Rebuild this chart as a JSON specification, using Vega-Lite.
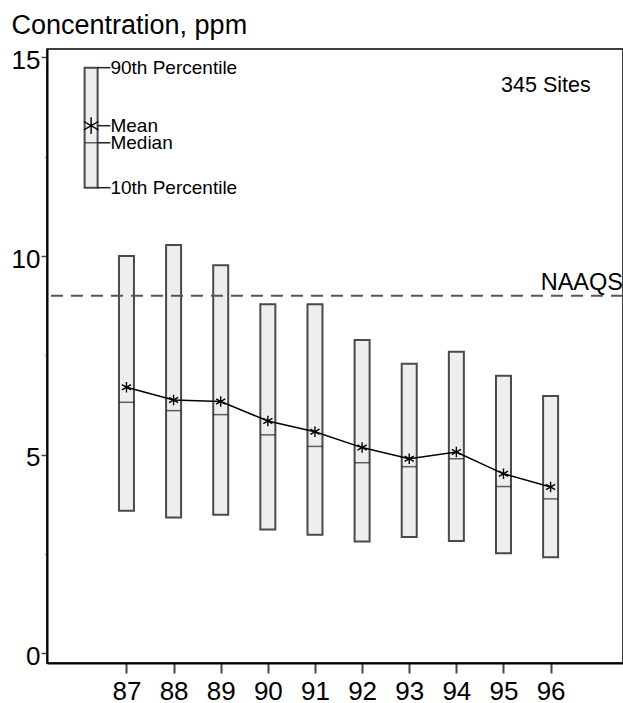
{
  "$schema": "https://vega.github.io/schema/vega-lite/v6.json",
  "width": 576,
  "height": 614,
  "autosize": {"type": "none"},
  "padding": {"left": 47, "top": 49, "right": 0, "bottom": 40},
  "background": "white",
  "config": {
    "view": {"stroke": "#000", "strokeWidth": 1.5},
    "font": "Liberation Sans",
    "text": {"font": "Liberation Sans", "color": "#000"}
  },
  "datasets": {
    "stats": [
      {"year": 87, "p10": 3.59, "p90": 10.0, "median": 6.32, "mean": 6.70},
      {"year": 88, "p10": 3.42, "p90": 10.28, "median": 6.11, "mean": 6.38},
      {"year": 89, "p10": 3.49, "p90": 9.77, "median": 6.01, "mean": 6.34},
      {"year": 90, "p10": 3.12, "p90": 8.79, "median": 5.50, "mean": 5.85},
      {"year": 91, "p10": 2.99, "p90": 8.79, "median": 5.21, "mean": 5.58},
      {"year": 92, "p10": 2.82, "p90": 7.89, "median": 4.80, "mean": 5.18},
      {"year": 93, "p10": 2.93, "p90": 7.29, "median": 4.70, "mean": 4.90},
      {"year": 94, "p10": 2.83, "p90": 7.59, "median": 4.90, "mean": 5.07},
      {"year": 95, "p10": 2.52, "p90": 6.99, "median": 4.20, "mean": 4.52},
      {"year": 96, "p10": 2.42, "p90": 6.48, "median": 3.89, "mean": 4.19}
    ],
    "key": [
      {"year": 86.25, "p10": 11.72, "p90": 14.74, "median": 12.85, "mean": 13.28}
    ],
    "keyLabels": [
      {"label": "90th Percentile", "value": 14.74},
      {"label": "Mean", "value": 13.28},
      {"label": "Median", "value": 12.85},
      {"label": "10th Percentile", "value": 11.72}
    ],
    "standard": [{"name": "NAAQS", "value": 9}],
    "note": [{"label": "345 Sites"}]
  },
  "layer": [
    {
      "data": {"name": "stats"},
      "mark": {"type": "bar", "size": 15, "fill": "#eeeeee", "stroke": "#4a4a4a", "strokeWidth": 2},
      "encoding": {
        "x": {
          "field": "year", "type": "quantitative",
          "scale": {"domain": [85.42, 97.43], "nice": false, "zero": false},
          "axis": {
            "values": [87, 88, 89, 90, 91, 92, 93, 94, 95, 96],
            "title": null, "grid": false,
            "tickSize": 10, "tickWidth": 2, "tickColor": "#444",
            "domainColor": "#000", "domainWidth": 2,
            "labelFontSize": 26, "labelColor": "#000", "labelPadding": 5,
            "labelFont": "Liberation Sans", "labelOverlap": false, "format": "d"
          }
        },
        "y": {
          "field": "p10", "type": "quantitative",
          "scale": {"domain": [-0.24, 15.21], "nice": false, "zero": false},
          "axis": {
            "values": [0, 2.5, 5, 7.5, 10, 12.5, 15],
            "labelExpr": "datum.value % 5 === 0 ? datum.label : ''",
            "tickSize": {"condition": {"test": "datum.value % 5 === 0", "value": 6}, "value": 2},
            "tickWidth": 1.5, "tickColor": "#444",
            "domainColor": "#000", "domainWidth": 2, "grid": false,
            "labelFontSize": 26, "labelColor": "#000", "labelPadding": 1, "labelOffset": 3,
            "labelFont": "Liberation Sans", "labelOverlap": false,
            "title": "Concentration, ppm", "titleAngle": 0, "titleAlign": "left",
            "titleBaseline": "alphabetic", "titleX": -36, "titleY": -16,
            "titleFontSize": 27, "titleFontWeight": "normal", "titleColor": "#000",
            "titleFont": "Liberation Sans"
          }
        },
        "y2": {"field": "p90"}
      }
    },
    {
      "data": {"name": "stats"},
      "mark": {"type": "tick", "orient": "horizontal", "size": 15, "thickness": 1.5, "color": "#222"},
      "encoding": {
        "x": {"field": "year", "type": "quantitative"},
        "y": {"field": "median", "type": "quantitative"}
      }
    },
    {
      "data": {"name": "stats"},
      "mark": {"type": "line", "color": "#000", "strokeWidth": 1.5},
      "encoding": {
        "x": {"field": "year", "type": "quantitative"},
        "y": {"field": "mean", "type": "quantitative"}
      }
    },
    {
      "data": {"name": "stats"},
      "mark": {"type": "point", "shape": "M0,-1L0,1M-0.87,-0.5L0.87,0.5M-0.87,0.5L0.87,-0.5", "filled": false, "stroke": "#000", "strokeWidth": 1.4, "size": 110, "opacity": 1},
      "encoding": {
        "x": {"field": "year", "type": "quantitative"},
        "y": {"field": "mean", "type": "quantitative"}
      }
    },
    {
      "data": {"name": "standard"},
      "mark": {"type": "rule", "stroke": "#555", "strokeWidth": 2, "strokeDash": [12, 8]},
      "encoding": {
        "y": {"field": "value", "type": "quantitative"}
      }
    },
    {
      "data": {"name": "standard"},
      "mark": {"type": "text", "align": "right", "baseline": "alphabetic", "fontSize": 23.5, "dy": -6, "dx": 0},
      "encoding": {
        "x": {"value": "width"},
        "y": {"field": "value", "type": "quantitative"},
        "text": {"field": "name"}
      }
    },
    {
      "data": {"name": "note"},
      "mark": {"type": "text", "align": "center", "baseline": "alphabetic", "fontSize": 21.5},
      "encoding": {
        "x": {"datum": 95.9, "type": "quantitative"},
        "y": {"datum": 14.14, "type": "quantitative"},
        "text": {"field": "label"}
      }
    },
    {
      "data": {"name": "key"},
      "mark": {"type": "bar", "size": 13, "fill": "#eeeeee", "stroke": "#4a4a4a", "strokeWidth": 2},
      "encoding": {
        "x": {"field": "year", "type": "quantitative"},
        "y": {"field": "p10", "type": "quantitative"},
        "y2": {"field": "p90"}
      }
    },
    {
      "data": {"name": "key"},
      "mark": {"type": "tick", "orient": "horizontal", "size": 13, "thickness": 1.5, "color": "#222"},
      "encoding": {
        "x": {"field": "year", "type": "quantitative"},
        "y": {"field": "median", "type": "quantitative"}
      }
    },
    {
      "data": {"name": "key"},
      "mark": {"type": "point", "shape": "M0,-1L0,1M-0.87,-0.5L0.87,0.5M-0.87,0.5L0.87,-0.5", "filled": false, "stroke": "#000", "strokeWidth": 1.4, "size": 280, "opacity": 1},
      "encoding": {
        "x": {"field": "year", "type": "quantitative"},
        "y": {"field": "mean", "type": "quantitative"}
      }
    },
    {
      "data": {"name": "keyLabels"},
      "mark": {"type": "rule", "stroke": "#222", "strokeWidth": 1.5},
      "encoding": {
        "x": {"datum": 86.38, "type": "quantitative"},
        "x2": {"datum": 86.66},
        "y": {"field": "value", "type": "quantitative"}
      }
    },
    {
      "data": {"name": "keyLabels"},
      "mark": {"type": "text", "align": "left", "baseline": "middle", "fontSize": 19},
      "encoding": {
        "x": {"datum": 86.66, "type": "quantitative"},
        "y": {"field": "value", "type": "quantitative"},
        "text": {"field": "label"}
      }
    }
  ]
}
